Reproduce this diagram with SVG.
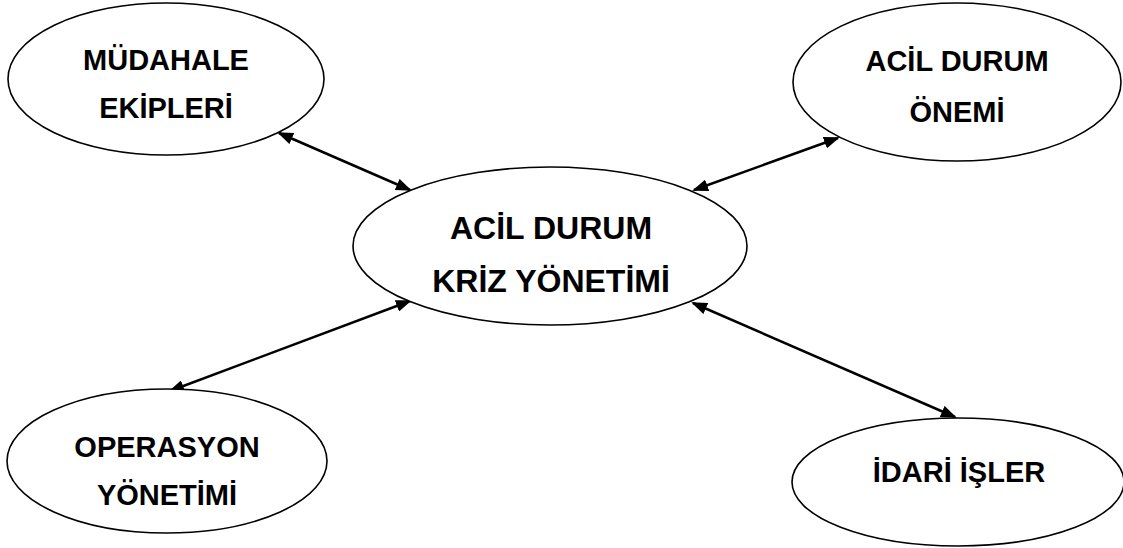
<svg xmlns="http://www.w3.org/2000/svg" width="1123" height="548" viewBox="0 0 1123 548">
  <style>
    .node ellipse { fill: #ffffff; stroke: #000000; stroke-width: 1.6; }
    .node text { font-family: "Liberation Sans", Arial, sans-serif; font-weight: bold; font-size: 29px; fill: #000000; text-anchor: middle; }
    #node-kriz text { font-size: 32px; }
    .conn line { stroke: #000000; stroke-width: 2.5; marker-start: url(#arrow); marker-end: url(#arrow); }
  </style>
  <defs>
    <marker id="arrow" viewBox="0 0 16 12" refX="14" refY="6" markerWidth="16" markerHeight="12" markerUnits="userSpaceOnUse" orient="auto-start-reverse">
      <path d="M0,0 L16,6 L0,12 z" fill="#000000"/>
    </marker>
  </defs>
  <rect width="1123" height="548" fill="#ffffff"/>
  <g id="connectors" class="conn">
    <line x1="279" y1="133" x2="410" y2="190"/>
    <line x1="838" y1="138" x2="694" y2="190"/>
    <line x1="410" y1="301" x2="170" y2="391"/>
    <line x1="693" y1="303" x2="955" y2="417"/>
  </g>
  <g id="node-mudahale" class="node">
    <ellipse cx="166" cy="79" rx="158" ry="76"/>
    <text x="166" y="70">MÜDAHALE</text>
    <text x="166" y="118">EKİPLERİ</text>
  </g>
  <g id="node-acil-onemi" class="node">
    <ellipse cx="957" cy="82" rx="164" ry="79"/>
    <text x="957" y="71">ACİL DURUM</text>
    <text x="957" y="122">ÖNEMİ</text>
  </g>
  <g id="node-kriz" class="node">
    <ellipse cx="550" cy="246" rx="197" ry="79"/>
    <text x="551" y="239">ACİL DURUM</text>
    <text x="551" y="292">KRİZ YÖNETİMİ</text>
  </g>
  <g id="node-operasyon" class="node">
    <ellipse cx="167" cy="461" rx="160" ry="72"/>
    <text x="167" y="457">OPERASYON</text>
    <text x="167" y="505">YÖNETİMİ</text>
  </g>
  <g id="node-idari" class="node">
    <ellipse cx="958" cy="482" rx="166" ry="64"/>
    <text x="959" y="482">İDARİ İŞLER</text>
  </g>
</svg>
